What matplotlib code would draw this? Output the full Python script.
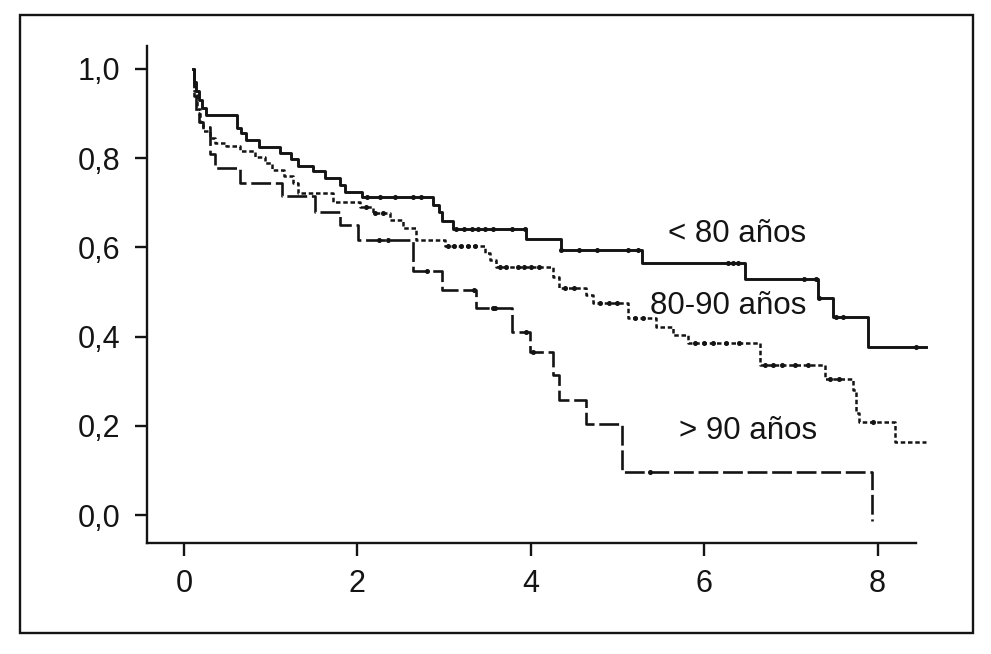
import matplotlib
matplotlib.use("Agg")
import matplotlib.pyplot as plt
from matplotlib.patches import Rectangle

plt.rcParams['font.family'] = ['Liberation Sans', 'DejaVu Sans']

# Kaplan-Meier steps: time where a new level starts, and the level
t_lt80 = [0.10, 0.12, 0.14, 0.17, 0.21, 0.26, 0.61, 0.66, 0.72, 0.86, 1.11, 1.24, 1.32,
          1.49, 1.63, 1.80, 1.86, 2.05, 2.87, 2.94, 2.98, 3.10, 3.95, 4.35, 5.28, 6.47,
          7.31, 7.49, 7.89, 8.56]
s_lt80 = [1.00, 0.97, 0.95, 0.93, 0.912, 0.897, 0.868, 0.856, 0.841, 0.824, 0.811, 0.798, 0.783,
          0.770, 0.756, 0.740, 0.725, 0.712, 0.695, 0.680, 0.658, 0.641, 0.618, 0.593, 0.564, 0.528,
          0.486, 0.443, 0.377, 0.377]
cx_lt80 = [2.11, 2.26, 2.43, 2.64, 2.73, 3.14, 3.23, 3.32, 3.39, 3.47, 3.56, 3.78, 3.93,
           4.35, 4.56, 4.76, 5.12, 5.24, 6.27, 6.33, 6.39, 7.15, 7.29, 7.33, 7.52, 7.60, 8.44]

t_8090 = [0.10, 0.12, 0.15, 0.18, 0.22, 0.30, 0.36, 0.49, 0.65, 0.82, 0.93, 1.01, 1.15, 1.26,
          1.32, 1.72, 2.03, 2.18, 2.38, 2.53, 2.68, 3.01, 3.47, 3.53, 3.60, 4.26, 4.33, 4.64,
          4.72, 5.12, 5.45, 5.64, 5.81, 6.64, 7.39, 7.72, 7.75, 7.79, 8.20, 8.56]
s_8090 = [1.00, 0.95, 0.91, 0.88, 0.86, 0.845, 0.833, 0.826, 0.815, 0.803, 0.789, 0.774, 0.759, 0.744,
          0.721, 0.702, 0.691, 0.677, 0.661, 0.643, 0.616, 0.602, 0.587, 0.572, 0.555, 0.534, 0.508, 0.493,
          0.475, 0.441, 0.422, 0.404, 0.385, 0.336, 0.306, 0.280, 0.229, 0.209, 0.164, 0.164]
cx_8090 = [2.10, 2.20, 2.30, 3.05, 3.12, 3.20, 3.28, 3.36, 3.65, 3.72, 3.85, 3.92, 4.00, 4.10,
           4.40, 4.50, 4.80, 4.90, 5.00, 5.20, 5.30, 5.90, 6.00, 6.10, 6.25, 6.40,
           6.70, 6.80, 6.90, 7.05, 7.20, 7.45, 7.55, 7.95]

t_gt90 = [0.10, 0.12, 0.14, 0.17, 0.22, 0.30, 0.36, 0.65, 1.13, 1.51, 1.80, 2.01, 2.64, 2.98,
          3.37, 3.78, 3.99, 4.26, 4.33, 4.64, 5.05, 7.94]
s_gt90 = [1.00, 0.94, 0.90, 0.88, 0.87, 0.81, 0.777, 0.744, 0.714, 0.680, 0.650, 0.616, 0.546, 0.504,
          0.463, 0.411, 0.366, 0.314, 0.259, 0.204, 0.097, -0.012]
cx_gt90 = [2.25, 2.35, 2.80, 3.35, 3.57, 3.59, 3.95, 4.03, 5.37]

labels = ["< 80 años", "80-90 años", "> 90 años"]
label_pos = [(5.58, 0.613), (5.37, 0.451), (5.71, 0.170)]

xticks = [0, 2, 4, 6, 8]
yticks = [0.0, 0.2, 0.4, 0.6, 0.8, 1.0]

INK = '#141414'


def level_at(t, s, x):
    # value of the step function at time x
    v = s[0]
    for ti, si in zip(t, s):
        if ti <= x:
            v = si
    return v


fig = plt.figure(figsize=(9.91, 6.54), dpi=100)
ax = fig.add_axes([0.148, 0.170, 0.776, 0.759])

ax.step(t_lt80, s_lt80, where='post', color=INK, lw=2.1, ls='-', clip_on=False)
ax.step(t_8090, s_8090, where='post', color=INK, lw=1.8, ls=(0, (1.8, 1.1)), clip_on=False)
ax.step(t_gt90, s_gt90, where='post', color=INK, lw=1.9, ls=(0, (7.5, 1.8)), clip_on=False)

for t, s, cx in [(t_lt80, s_lt80, cx_lt80), (t_8090, s_8090, cx_8090), (t_gt90, s_gt90, cx_gt90)]:
    cy = [level_at(t, s, x) for x in cx]
    ax.plot(cx, cy, ls='none', marker='o', ms=2.6, color=INK, clip_on=False)

for lab, (lx, ly) in zip(labels, label_pos):
    ax.text(lx, ly, lab, fontsize=22.5, color=INK, ha='left', va='baseline')

ax.set_xlim(-0.43, 8.44)
ax.set_ylim(-0.062, 1.05)
ax.set_xticks(xticks)
ax.set_xticklabels([str(v) for v in xticks])
ax.set_yticks(yticks)
ax.set_yticklabels([f"{v:.1f}".replace('.', ',') for v in yticks])

for side in ['top', 'right']:
    ax.spines[side].set_visible(False)
for side in ['left', 'bottom']:
    ax.spines[side].set_linewidth(1.7)
    ax.spines[side].set_color(INK)
ax.tick_params(direction='out', length=9, width=1.7, color=INK,
               labelsize=22, labelcolor=INK)
ax.tick_params(axis='y', pad=10)
ax.tick_params(axis='x', pad=10)

# outer frame around the whole figure
fig.patches.append(Rectangle((20 / 991, 1 - 633 / 654), (973 - 20) / 991, (633 - 15) / 654,
                             transform=fig.transFigure, fill=False, lw=1.7, ec=INK))

fig.savefig("out.png", dpi=100)
